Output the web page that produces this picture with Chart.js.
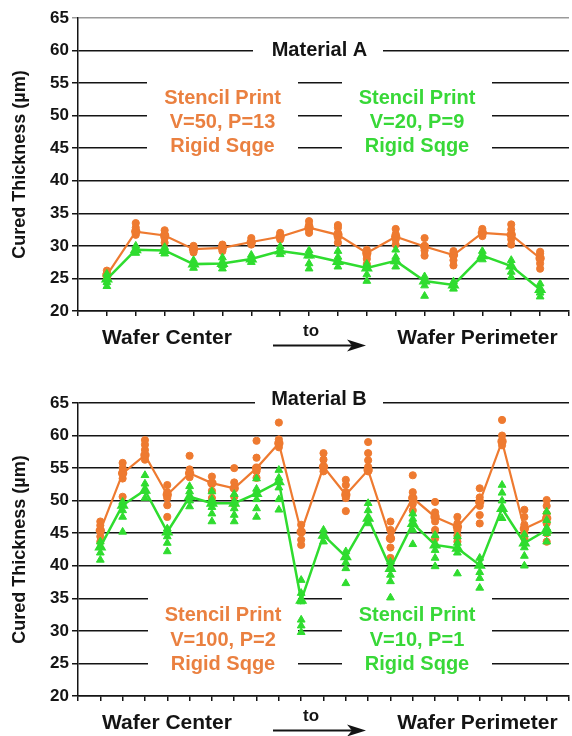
<!DOCTYPE html>
<html>
<head>
<meta charset="utf-8">
<script src="https://cdn.jsdelivr.net/npm/chart.js@4.4.1/dist/chart.umd.min.js"></script>
<style>
  html, body { margin: 0; padding: 0; background: #fff; overflow: hidden; width: 572px; height: 736px; }
  canvas { position: absolute; left: 0; }
  #chartA { top: 0; }
  #chartB { top: 368px; }
</style>
</head>
<body>
<canvas id="chartA" width="576" height="368"></canvas>
<canvas id="chartB" width="576" height="368"></canvas>
<script>
// ---- Material A: individual readings per wafer site, and the site means ----
const matAOrangeReadings = [
  [24.8, 25.3, 25.8, 26.2], [31.7, 32.2, 32.8, 33.5], [30.5, 31.2, 31.8, 32.4], [29.0, 29.5, 30.0],
  [29.2, 29.7, 30.2], [30.2, 30.6, 31.2], [31.0, 31.4, 32.0], [32.0, 32.5, 33.2, 33.8],
  [30.5, 31.3, 32.0, 32.8, 33.2], [27.2, 28.0, 28.5, 29.4], [30.2, 31.0, 31.8, 32.6], [28.5, 29.3, 29.9, 31.2],
  [27.0, 27.8, 28.6, 29.2], [31.5, 32.0, 32.6], [30.2, 31.0, 31.7, 32.5, 33.3], [26.5, 27.3, 28.0, 28.8, 29.1]
];
const matAOrangeMeans = [25.5, 32.2, 31.6, 29.5, 29.7, 30.6, 31.4, 32.8, 31.7, 28.9, 31.4, 29.9, 28.6, 32.0, 31.7, 28.1];

const matAGreenReadings = [
  [23.8, 24.4, 25.0, 25.7], [28.9, 29.4, 30.0], [28.8, 29.3, 29.8], [26.6, 27.2, 27.8],
  [26.5, 27.0, 27.5, 28.2], [27.5, 28.0, 28.6], [28.7, 29.3, 29.9], [26.5, 27.3, 28.5, 29.3],
  [26.8, 27.6, 28.3, 29.2], [24.6, 25.6, 26.6, 27.2], [26.8, 27.6, 28.3, 29.4], [22.3, 23.9, 24.6, 25.3],
  [23.4, 24.0, 24.5], [27.9, 28.5, 29.2], [25.2, 26.0, 26.9, 27.8], [22.2, 22.8, 23.4, 24.2]
];
const matAGreenMeans = [24.9, 29.4, 29.3, 27.2, 27.3, 28.0, 29.2, 28.6, 27.6, 26.6, 27.7, 24.6, 24.0, 28.5, 26.9, 23.3];

// ---- Material B ----
const matBOrangeReadings = [
  [43.7, 44.5, 45.4, 46.2, 46.8], [50.6, 53.4, 54.2, 55.0, 55.8], [56.3, 57.0, 57.8, 58.6, 59.3],
  [47.5, 49.3, 50.4, 51.3, 52.4], [53.6, 54.2, 54.8, 56.9], [50.4, 51.5, 52.7, 53.7],
  [49.5, 50.6, 51.9, 52.8, 55.0], [53.5, 54.5, 55.0, 56.6, 59.2], [58.2, 58.8, 59.4, 62.0],
  [43.2, 44.0, 45.2, 46.3], [54.5, 55.2, 56.3, 57.3], [48.4, 50.4, 51.3, 52.4, 53.2],
  [54.5, 55.2, 56.2, 57.3, 59.0], [41.2, 42.8, 44.2, 45.5, 46.8], [48.5, 49.5, 50.4, 51.3, 53.9],
  [44.2, 45.5, 46.8, 48.2, 49.8], [43.7, 44.6, 45.5, 46.5, 47.5], [46.5, 47.8, 49.2, 50.5, 51.9],
  [58.5, 59.1, 60.0, 62.4], [44.2, 45.0, 46.3, 47.5, 48.6], [43.7, 45.0, 46.5, 48.0, 49.2, 50.1]
];
const matBOrangeMeans = [45.4, 54.2, 57.0, 50.9, 54.2, 52.7, 51.9, 55.0, 58.8, 45.2, 55.2,
                         50.9, 54.7, 44.2, 50.4, 47.5, 46.0, 49.8, 59.1, 45.7, 47.3];

const matBGreenReadings = [
  [40.9, 42.0, 43.0, 43.7], [45.2, 47.5, 48.5, 49.3, 49.8], [50.4, 51.5, 52.6, 53.9],
  [42.2, 43.5, 44.5, 45.2, 45.7], [49.1, 50.0, 50.6, 51.4, 52.2], [46.8, 48.0, 49.0, 50.2, 51.4],
  [46.8, 47.8, 48.8, 49.9, 51.0], [47.5, 48.8, 50.2, 51.8, 53.4], [48.6, 50.2, 52.0, 53.5, 54.7],
  [29.8, 30.8, 31.7, 34.5, 35.8, 37.8], [43.7, 44.6, 45.5], [37.3, 39.6, 40.5, 41.4, 42.2],
  [46.5, 47.3, 48.5, 49.6], [35.1, 37.6, 38.6, 39.6, 40.6], [43.3, 45.5, 46.5, 47.2, 48.0],
  [39.9, 41.2, 42.4, 43.2, 44.7], [38.8, 42.0, 42.7, 43.5, 44.5], [36.6, 38.1, 39.0, 40.1, 41.2],
  [47.3, 48.8, 50.0, 51.2, 52.4], [40.0, 41.5, 42.8, 43.5, 44.8], [43.7, 45.0, 45.8, 47.0, 48.3]
];
const matBGreenMeans = [42.9, 49.3, 51.6, 45.2, 50.6, 49.6, 49.6, 51.1, 52.9, 34.7, 44.7,
                        41.4, 47.3, 39.6, 46.5, 43.2, 42.7, 40.1, 48.8, 43.5, 45.5];

// ---- axis and caption text ----
const yAxisTitle = 'Cured Thickness (\u00B5m)';
const yTickMin = 20, yTickMax = 65, yTickStep = 5;
const xCaptionLeft = 'Wafer Center';
const xCaptionMid = 'to';
const xCaptionRight = 'Wafer Perimeter';
const panelTitles = ['Material A', 'Material B'];
const matANotes = [['Stencil Print', 'V=50, P=13', 'Rigid Sqge'], ['Stencil Print', 'V=20, P=9', 'Rigid Sqge']];
const matBNotes = [['Stencil Print', 'V=100, P=2', 'Rigid Sqge'], ['Stencil Print', 'V=10, P=1', 'Rigid Sqge']];

const ORANGE = '#EE7A30';
const GREEN = '#2FDC2F';
const ORANGE_TEXT = '#EA8040';
const GREEN_TEXT = '#38D838';
const INK = '#141414';
const FONT = '"Liberation Sans", Arial, Helvetica, sans-serif';

Chart.defaults.font.family = FONT;
Chart.defaults.color = INK;

function readingPoints(readings) {
  const pts = [];
  readings.forEach((vals, i) => vals.forEach(v => pts.push({ x: i + 1, y: v })));
  return pts;
}
function meanPoints(means) {
  return means.map((v, i) => ({ x: i + 1, y: v }));
}

// Panel title, annotation blocks (on white patches over the grid) and the x captions
function panelDecor(cfg) {
  return {
    id: 'panelDecor',
    beforeDatasetsDraw(chart) {
      const ctx = chart.ctx;
      ctx.save();
      ctx.fillStyle = '#fff';
      cfg.patches.forEach(p => ctx.fillRect(p[0], p[1], p[2] - p[0], p[3] - p[1]));
      ctx.textAlign = 'center';
      ctx.textBaseline = 'middle';
      ctx.font = 'bold 20px ' + FONT;
      ctx.fillStyle = INK;
      ctx.fillText(cfg.title, cfg.titleX, cfg.titleY);
      cfg.notes.forEach(n => {
        ctx.fillStyle = n.color;
        n.lines.forEach((t, i) => ctx.fillText(t, n.x, n.y + i * n.step));
      });
      ctx.restore();
    },
    afterDraw(chart) {
      const ctx = chart.ctx;
      const b = chart.chartArea.bottom;
      ctx.save();
      ctx.fillStyle = INK;
      ctx.strokeStyle = INK;
      ctx.textAlign = 'center';
      ctx.textBaseline = 'middle';
      ctx.font = 'bold 21px ' + FONT;
      ctx.fillText(xCaptionLeft, 167, b + 27);
      ctx.fillText(xCaptionRight, 477.5, b + 27);
      ctx.font = 'bold 17px ' + FONT;
      ctx.fillText(xCaptionMid, 311, b + 20);
      // arrow pointing towards the perimeter
      const ay = b + 34.5;
      ctx.lineWidth = 2;
      ctx.beginPath();
      ctx.moveTo(273, ay);
      ctx.lineTo(352, ay);
      ctx.stroke();
      ctx.beginPath();
      ctx.moveTo(366, ay);
      ctx.lineTo(347, ay - 6);
      ctx.lineTo(352, ay);
      ctx.lineTo(347, ay + 6);
      ctx.closePath();
      ctx.fill();
      ctx.restore();
    }
  };
}

function buildPanel(id, cfg) {
  const n = cfg.orangeMeans.length;
  return new Chart(document.getElementById(id), {
    type: 'scatter',
    data: {
      datasets: [
        { data: readingPoints(cfg.greenReadings), showLine: false, pointStyle: 'triangle',
          pointRadius: 4.5, backgroundColor: GREEN, borderColor: GREEN, borderWidth: 1 },
        { data: meanPoints(cfg.greenMeans), showLine: true, borderColor: GREEN, borderWidth: 2.5,
          pointStyle: 'triangle', pointRadius: 4.5, pointBackgroundColor: GREEN, pointBorderColor: GREEN },
        { data: readingPoints(cfg.orangeReadings), showLine: false, pointStyle: 'circle',
          pointRadius: 3.6, backgroundColor: ORANGE, borderColor: ORANGE, borderWidth: 1 },
        { data: meanPoints(cfg.orangeMeans), showLine: true, borderColor: ORANGE, borderWidth: 2.2,
          pointStyle: 'circle', pointRadius: 3.6, pointBackgroundColor: ORANGE, pointBorderColor: ORANGE }
      ]
    },
    options: {
      responsive: false,
      animation: false,
      devicePixelRatio: 1,
      events: [],
      layout: { padding: { left: 0, right: 1, top: cfg.padTop, bottom: 0 } },
      plugins: { legend: { display: false }, tooltip: { enabled: false } },
      scales: {
        x: {
          type: 'linear',
          min: 0,
          max: n + 1,
          afterFit: s => { s.height = cfg.xHeight; },
          ticks: { stepSize: 1, autoSkip: false, callback: () => '' },
          grid: { drawOnChartArea: false, drawTicks: true, tickLength: 5, color: INK, lineWidth: 1.5 },
          border: { display: true, color: INK, width: 1.5 }
        },
        y: {
          min: yTickMin,
          max: yTickMax,
          afterFit: s => { s.width = 78; },
          ticks: { stepSize: yTickStep, padding: 3, color: INK, font: { size: 17, weight: 'bold' } },
          grid: {
            color: c => (cfg.grayTop && c.tick && c.tick.value === yTickMax) ? '#9a9a9a' : INK,
            lineWidth: 1.5, tickLength: 6, drawTicks: true
          },
          border: { display: true, color: INK, width: 1.5 },
          title: { display: true, text: yAxisTitle, color: INK, padding: { top: 9, bottom: 0 },
                   font: { size: 18, weight: 'bold' } }
        }
      }
    },
    plugins: [panelDecor(cfg)]
  });
}

buildPanel('chartA', {
  orangeReadings: matAOrangeReadings, orangeMeans: matAOrangeMeans,
  greenReadings: matAGreenReadings, greenMeans: matAGreenMeans,
  padTop: 18, xHeight: 57, grayTop: true,
  title: panelTitles[0], titleX: 319.5, titleY: 50,
  patches: [[253, 40, 383, 60], [147, 76, 298, 158], [342, 76, 492, 158]],
  notes: [
    { lines: matANotes[0], color: ORANGE_TEXT, x: 222.5, y: 98, step: 24 },
    { lines: matANotes[1], color: GREEN_TEXT, x: 417, y: 98, step: 24 }
  ]
});

buildPanel('chartB', {
  orangeReadings: matBOrangeReadings, orangeMeans: matBOrangeMeans,
  greenReadings: matBGreenReadings, greenMeans: matBGreenMeans,
  padTop: 35, xHeight: 40, grayTop: false,
  title: panelTitles[1], titleX: 319, titleY: 31,
  patches: [[255, 24, 383, 44], [148, 222, 298, 308], [342, 222, 492, 308]],
  notes: [
    { lines: matBNotes[0], color: ORANGE_TEXT, x: 223, y: 247.5, step: 24.5 },
    { lines: matBNotes[1], color: GREEN_TEXT, x: 417, y: 247.5, step: 24.5 }
  ]
});
</script>
</body>
</html>
